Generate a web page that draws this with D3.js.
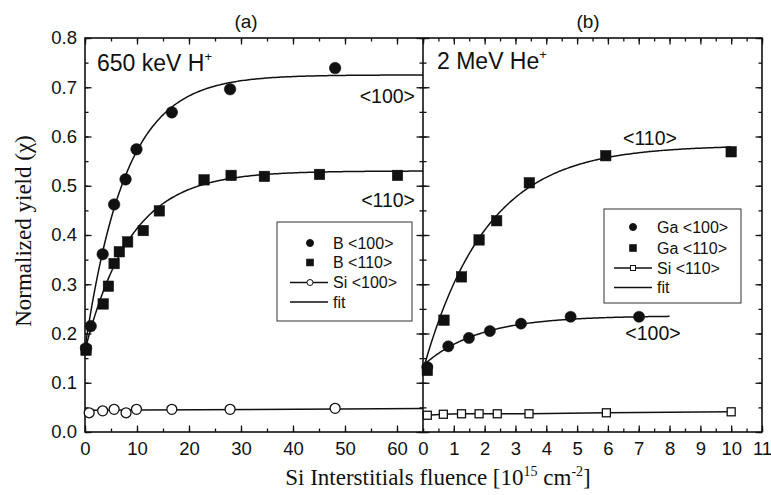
<!DOCTYPE html>
<html><head><meta charset="utf-8">
<script src="https://cdn.jsdelivr.net/npm/d3@7/dist/d3.min.js"></script>
<style>
body{margin:0;background:#fff}
svg{display:block}
.sans{font-family:"Liberation Sans",Arial,sans-serif}
.serif{font-family:"Liberation Serif","Times New Roman",serif}
</style></head>
<body>
<svg id="c" width="771" height="495"></svg>
<script>
// ---- data (left panel: 650 keV H+) ----
const b100X = [0.2, 1.1, 3.4, 5.6, 7.8, 9.9, 16.7, 27.9, 48.1];
const b100Y = [0.170, 0.215, 0.361, 0.462, 0.513, 0.574, 0.649, 0.696, 0.739];
const b110X = [0.2, 3.5, 4.5, 5.6, 6.6, 8.2, 11.2, 14.3, 22.9, 28.1, 34.5, 45.1, 60.1];
const b110Y = [0.166, 0.260, 0.296, 0.342, 0.366, 0.386, 0.409, 0.449, 0.512, 0.521, 0.519, 0.523, 0.521];
const si100X = [0.8, 3.4, 5.6, 7.9, 9.9, 16.7, 27.9, 48.1];
const si100Y = [0.039, 0.043, 0.046, 0.039, 0.046, 0.046, 0.046, 0.048];
// ---- data (right panel: 2 MeV He+) ----
const ga100X = [0.14, 0.82, 1.49, 2.17, 3.18, 4.79, 7.01];
const ga100Y = [0.132, 0.174, 0.191, 0.205, 0.220, 0.234, 0.234];
const ga110X = [0.14, 0.68, 1.25, 1.82, 2.39, 3.45, 5.93, 10.0];
const ga110Y = [0.125, 0.227, 0.315, 0.390, 0.429, 0.506, 0.561, 0.569];
const si110X = [0.14, 0.66, 1.25, 1.82, 2.41, 3.44, 5.95, 10.0];
const si110Y = [0.034, 0.036, 0.037, 0.037, 0.037, 0.037, 0.039, 0.041];
// ---- fit parameters: y = a - (a - y0) * exp(-x / tau), drawn over [x0, x1] ----
const fitB100 = [0.17, 0.725, 7.8, 0, 65];
const fitB110 = [0.166, 0.53, 8.8, 0, 65];
const fitGa100 = [0.135, 0.236, 1.8, 0, 8];
const fitGa110 = [0.125, 0.582, 2.05, 0, 10];
const fitSi100 = [0.044, 0.0475, 0, 65]; // linear: y0, y1, x0, x1
// ---- axes ----
const xLeftDomain = [0, 65];
const xRightDomain = [0, 11];
const yDomain = [0, 0.8];
const xLeftTicks = [0, 10, 20, 30, 40, 50, 60];
const xRightTicks = [0, 1, 2, 3, 4, 5, 6, 7, 8, 9, 10, 11];
const yTicks = [0, 0.1, 0.2, 0.3, 0.4, 0.5, 0.6, 0.7, 0.8];

const svg = d3.select("#c");
const L = 85, M = 423, R = 762, T = 38, B = 432;
const xL = d3.scaleLinear(xLeftDomain, [L, M]);
const xR = d3.scaleLinear(xRightDomain, [M, R]);
const y = d3.scaleLinear(yDomain, [B, T]);

const minorL = d3.range(0, 65.01, 5);
const minorR = d3.range(0, 11.01, 0.5);
const minorY = d3.range(0, 0.801, 0.05);

function styleAxis(g, labels) {
  g.select(".domain").remove();
  g.selectAll(".tick line").attr("stroke", "#111").attr("stroke-width", 1.3);
  g.selectAll("text").attr("class", "sans").attr("font-size", 18.5).attr("fill", "#111");
  if (!labels) g.selectAll("text").remove();
}
function addAxis(axis, tx, ty, labels) {
  const g = svg.append("g").attr("transform", `translate(${tx},${ty})`).call(axis);
  styleAxis(g, labels);
  return g;
}
const fmt1 = d3.format(".1f");
// bottom axes
addAxis(d3.axisBottom(xL).tickValues(minorL).tickSize(-3.5).tickFormat(""), 0, B, false);
addAxis(d3.axisBottom(xL).tickValues(xLeftTicks).tickSize(-6.5).tickPadding(10).tickFormat(d3.format("d")), 0, B, true);
addAxis(d3.axisBottom(xR).tickValues(minorR).tickSize(-3.5).tickFormat(""), 0, B, false);
addAxis(d3.axisBottom(xR).tickValues(xRightTicks.slice(1)).tickSize(-6.5).tickPadding(10).tickFormat(d3.format("d")), 0, B, true);
addAxis(d3.axisBottom(xR).tickValues([0]).tickSize(0).tickPadding(10).tickFormat(d3.format("d")), 0, B, true);
// top axes
addAxis(d3.axisTop(xL).tickValues(minorL).tickSize(-3.5).tickFormat(""), 0, T, false);
addAxis(d3.axisTop(xL).tickValues(xLeftTicks).tickSize(-6.5).tickFormat(""), 0, T, false);
addAxis(d3.axisTop(xR).tickValues(minorR).tickSize(-3.5).tickFormat(""), 0, T, false);
addAxis(d3.axisTop(xR).tickValues(xRightTicks).tickSize(-6.5).tickFormat(""), 0, T, false);
// left axis
addAxis(d3.axisLeft(y).tickValues(minorY).tickSize(-3.5).tickFormat(""), L, 0, false);
addAxis(d3.axisLeft(y).tickValues(yTicks).tickSize(-6.5).tickPadding(8).tickFormat(fmt1), L, 0, true);
// divider (ticks both sides)
addAxis(d3.axisLeft(y).tickValues(minorY).tickSize(-3.5).tickFormat(""), M, 0, false);
addAxis(d3.axisLeft(y).tickValues(yTicks).tickSize(-6.5).tickFormat(""), M, 0, false);
addAxis(d3.axisRight(y).tickValues(minorY).tickSize(-3.5).tickFormat(""), M, 0, false);
addAxis(d3.axisRight(y).tickValues(yTicks).tickSize(-6.5).tickFormat(""), M, 0, false);
// right axis
addAxis(d3.axisRight(y).tickValues(minorY).tickSize(-3.5).tickFormat(""), R, 0, false);
addAxis(d3.axisRight(y).tickValues(yTicks).tickSize(-6.5).tickFormat(""), R, 0, false);

// frame
svg.append("rect").attr("x", L).attr("y", T).attr("width", R - L).attr("height", B - T)
  .attr("fill", "none").attr("stroke", "#111").attr("stroke-width", 1.6);
svg.append("line").attr("x1", M).attr("x2", M).attr("y1", T).attr("y2", B)
  .attr("stroke", "#111").attr("stroke-width", 1.6);

// fits
function expFit(p, xs) {
  const [y0, a, tau, x0, x1] = p;
  const pts = d3.range(0, 201).map(i => x0 + (x1 - x0) * i / 200);
  return pts.map(x => [xs(x), y(a - (a - y0) * Math.exp(-x / tau))]);
}
const line = d3.line();
function drawPath(pts) {
  svg.append("path").attr("d", line(pts)).attr("fill", "none")
    .attr("stroke", "#111").attr("stroke-width", 1.5);
}
drawPath(expFit(fitB100, xL));
drawPath(expFit(fitB110, xL));
drawPath([[xL(fitSi100[2]), y(fitSi100[0])], [xL(fitSi100[3]), y(fitSi100[1])]]);
drawPath(expFit(fitGa100, xR));
drawPath(expFit(fitGa110, xR));
drawPath(si110X.map((x, i) => [xR(x), y(si110Y[i])]));

// markers
function circles(xs, ys, xsc, r, filled) {
  svg.append("g").selectAll("circle").data(xs).join("circle")
    .attr("cx", d => xsc(d)).attr("cy", (d, i) => y(ys[i])).attr("r", r)
    .attr("fill", filled ? "#111" : "#fff").attr("stroke", "#111").attr("stroke-width", filled ? 0.5 : 1.3);
}
function squares(xs, ys, xsc, s, filled) {
  svg.append("g").selectAll("rect").data(xs).join("rect")
    .attr("x", d => xsc(d) - s / 2).attr("y", (d, i) => y(ys[i]) - s / 2)
    .attr("width", s).attr("height", s)
    .attr("fill", filled ? "#111" : "#fff").attr("stroke", "#111").attr("stroke-width", filled ? 0.5 : 1.3);
}
circles(si100X, si100Y, xL, 5, false);
squares(b110X, b110Y, xL, 10.5, true);
circles(b100X, b100Y, xL, 5.8, true);
squares(si110X, si110Y, xR, 8, false);
squares(ga110X, ga110Y, xR, 10.5, true);
circles(ga100X, ga100Y, xR, 5.6, true);

// text helpers
function txt(x, yy, s, size, cls, anchor) {
  return svg.append("text").attr("x", x).attr("y", yy).attr("class", cls)
    .attr("font-size", size).attr("fill", "#111").attr("text-anchor", anchor || "start").text(s);
}
txt(246, 28, "(a)", 19, "sans", "middle");
txt(588, 28, "(b)", 19, "sans", "middle");
const t1 = txt(97, 71, "650 keV H", 23, "sans");
t1.append("tspan").attr("dy", -10).attr("font-size", 13).text("+");
const t2 = txt(437, 69, "2 MeV He", 23, "sans");
t2.append("tspan").attr("dy", -10).attr("font-size", 13).text("+");
txt(415, 103, "<100>", 19.5, "sans", "end");
txt(415, 207, "<110>", 19.5, "sans", "end");
txt(650, 145, "<110>", 19.5, "sans", "middle");
txt(653, 340, "<100>", 19.5, "sans", "middle");

// axis titles
svg.append("text").attr("class", "serif").attr("font-size", 23).attr("fill", "#111")
  .attr("text-anchor", "middle").attr("transform", "translate(31,231) rotate(-90)")
  .text("Normalized yield (χ)");
const xt = svg.append("text").attr("class", "serif").attr("font-size", 23).attr("fill", "#111")
  .attr("text-anchor", "middle").attr("x", 438).attr("y", 485);
xt.append("tspan").text("Si Interstitials fluence [10");
xt.append("tspan").attr("dy", -9).attr("font-size", 14).text("15");
xt.append("tspan").attr("dy", 9).text(" cm");
xt.append("tspan").attr("dy", -9).attr("font-size", 14).text("-2");
xt.append("tspan").attr("dy", 9).text("]");

// legends
function legend(x0, y0, w, h, rows, symX, lx1, lx2, textX, rowY) {
  svg.append("rect").attr("x", x0).attr("y", y0).attr("width", w).attr("height", h)
    .attr("fill", "#fff").attr("stroke", "#333").attr("stroke-width", 1);
  rows.forEach((r, i) => {
    const yy = rowY[i];
    if (r.line) svg.append("line").attr("x1", lx1).attr("x2", lx2).attr("y1", yy).attr("y2", yy)
      .attr("stroke", "#111").attr("stroke-width", 1.5);
    if (r.sym === "circle") svg.append("circle").attr("cx", symX).attr("cy", yy).attr("r", r.size)
      .attr("fill", r.filled ? "#111" : "#fff").attr("stroke", "#111").attr("stroke-width", 1);
    if (r.sym === "square") svg.append("rect").attr("x", symX - r.size / 2).attr("y", yy - r.size / 2)
      .attr("width", r.size).attr("height", r.size)
      .attr("fill", r.filled ? "#111" : "#fff").attr("stroke", "#111").attr("stroke-width", 1);
    txt(textX, yy + 5.5, r.label, 16, "sans");
  });
}
legend(277, 222, 135, 99, [
  {label: "B <100>", sym: "circle", size: 3.5, filled: true},
  {label: "B <110>", sym: "square", size: 6.5, filled: true},
  {label: "Si <100>", sym: "circle", size: 3, filled: false, line: true},
  {label: "fit", line: true}
], 310, 290, 328, 333, [243, 262.5, 282.5, 302]);
legend(604, 209, 137, 94, [
  {label: "Ga <100>", sym: "circle", size: 3.5, filled: true},
  {label: "Ga <110>", sym: "square", size: 6.5, filled: true},
  {label: "Si <110>", sym: "square", size: 5, filled: false, line: true},
  {label: "fit", line: true}
], 633, 614, 652, 657, [227, 248, 268, 287.5]);
</script>
</body></html>
